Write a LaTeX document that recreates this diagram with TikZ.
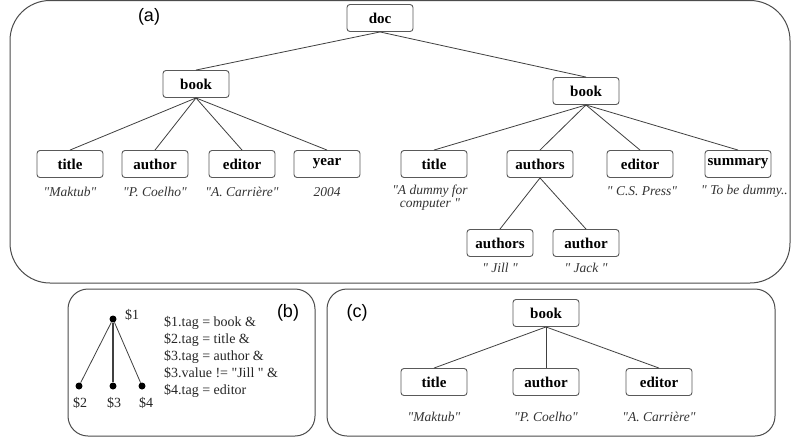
\documentclass[tikz,border=0pt]{standalone}
\usepackage{fontspec}
\setmainfont{Liberation Serif}[Ligatures=TeXOff]
\newfontfamily\labfont{Liberation Sans}
\newcommand{\dq}{{\char34}}
\begin{document}
\begin{tikzpicture}[x=1pt,y=-1pt,
 tag/.style={draw=black!65, rounded corners=3pt, line width=0.9pt, minimum width=66pt, minimum height=27pt, inner sep=0pt, font=\fontsize{15}{15}\selectfont\bfseries, fill=white},
 val/.style={font=\fontsize{13.5}{13}\selectfont\itshape, text=black!80, align=center, inner sep=0pt},
 edge/.style={draw=black!75, line width=0.8pt},
 frame/.style={draw=black!70, line width=1pt},
 panel/.style={font=\labfont\fontsize{18}{18}\selectfont, inner sep=0pt},
 dot/.style={circle, fill=black, inner sep=0pt, minimum size=7pt},
 dlab/.style={font=\fontsize{14}{14}\selectfont, text=black!85, inner sep=0pt}]
\useasboundingbox (0,0) rectangle (792,440);
\fill[white] (0,0) rectangle (792,440);

% ---------- (a) ----------
\draw[frame, rounded corners=40pt] (10,0.5) rectangle (790,283);
\node[panel] (la) at (149,17) {(a)};

\node[tag] (doc) at (380,18) {doc};
\node[tag] (b1) at (196,84) {book};
\node[tag] (b2) at (586,91) {book};

\node[tag] (t1) at (70,164) {title};
\node[tag] (a1) at (155,164) {author};
\node[tag] (e1) at (242,164) {editor};
\node[tag] (y1) at (327,164) {year};

\node[tag] (t2) at (434,164) {title};
\node[tag] (as2) at (540,164) {authors};
\node[tag] (e2) at (640,164) {editor};
\node[tag] (s2) at (738,164) {summary};

\node[tag] (as3) at (500,243) {authors};
\node[tag] (a3) at (586,243) {author};

\node[val] (vt1) at (70,192) {\dq Maktub\dq};
\node[val] (va1) at (155,192) {\dq P. Coelho\dq};
\node[val] (ve1) at (242,192) {\dq A. Carrière\dq};
\node[val] (vy1) at (327,192) {2004};
\node[val] (vt2) at (430,198) {\dq A dummy for\\computer \dq};
\node[val] (ve2) at (642,191) {\dq\ C.S. Press\dq};
\node[val, anchor=west] (vs2) at (701,191) {\dq\ To be dummy..};
\node[val] (vas3) at (500,268) {\dq\ Jill \dq};
\node[val] (va3) at (586,268) {\dq\ Jack \dq};

\draw[edge] (doc.south) -- (b1.north);
\draw[edge] (doc.south) -- (b2.north);
\foreach \c in {t1,a1,e1,y1} \draw[edge] (b1.south) -- (\c.north);
\foreach \c in {t2,as2,e2,s2} \draw[edge] (b2.south) -- (\c.north);
\draw[edge] (as2.south) -- (as3.north);
\draw[edge] (as2.south) -- (a3.north);

% ---------- (b) ----------
\draw[frame, rounded corners=20pt] (68,289) rectangle (315,436);
\node[panel] (lb) at (288,313) {(b)};
\node[dot] (p1) at (113,319) {};
\node[dot] (p2) at (79,386) {};
\node[dot] (p3) at (113,386) {};
\node[dot] (p4) at (142,386) {};
\draw[edge] (p1) -- (p2);
\draw[edge, line width=1.6pt] (p1) -- (p3);
\draw[edge] (p1) -- (p4);
\node[dlab] (l1) at (132,315) {\$1};
\node[dlab] (l2) at (80,403) {\$2};
\node[dlab] (l3) at (114,403) {\$3};
\node[dlab] (l4) at (146,403) {\$4};
\node[dlab, align=left, anchor=west, font=\fontsize{14}{17}\selectfont] (cond) at (164,357)
 {\$1.tag = book \&\\\$2.tag = title \&\\\$3.tag = author \&\\\$3.value != \dq Jill \dq\ \&\\\$4.tag = editor};

% ---------- (c) ----------
\draw[frame, rounded corners=20pt] (327,289) rectangle (775,436);
\node[panel] (lc) at (357,313) {(c)};
\node[tag] (cb) at (546,313) {book};
\node[tag] (ct) at (434,382) {title};
\node[tag] (ca) at (546,382) {author};
\node[tag] (ce) at (659,382) {editor};
\draw[edge] (cb.south) -- (ct.north);
\draw[edge] (cb.south) -- (ca.north);
\draw[edge] (cb.south) -- (ce.north);
\node[val] (cvt) at (434,417) {\dq Maktub\dq};
\node[val] (cva) at (546,417) {\dq P. Coelho\dq};
\node[val] (cve) at (659,417) {\dq A. Carrière\dq};
\end{tikzpicture}
\end{document}
